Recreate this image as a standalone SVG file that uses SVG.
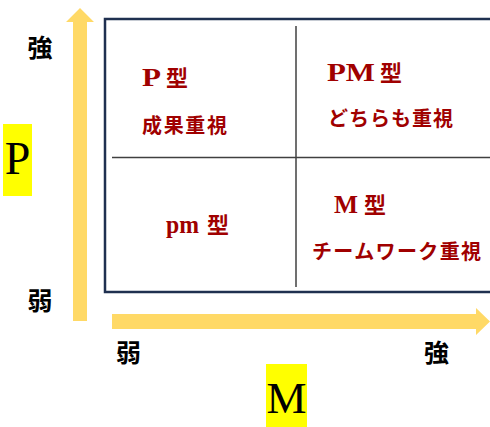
<svg xmlns="http://www.w3.org/2000/svg" width="490" height="427" viewBox="0 0 490 427">
<style>
.ax{font-family:"Noto Sans CJK JP","Noto Sans",sans-serif;font-weight:bold;font-size:25px;fill:#000}
.q{font-family:"Liberation Serif","Noto Sans CJK JP",serif;font-weight:bold;fill:#A00000}
.ql{font-size:25px}
.qk{font-size:22px}
.qs{font-size:20px}
.big{font-family:"Liberation Serif",serif;fill:#000}
.arrow{fill:#FFD966}
.hl{fill:#FFFF00}
.div{stroke:#404040;stroke-width:1.5;fill:none}
</style>
<rect width="490" height="427" fill="#fff"/>
<g id="connectors">
  <polygon class="arrow" points="73,321 73,22 66,22 80,8 94,22 87,22 87,321"/>
  <polygon class="arrow" points="112,314 476,314 476,308 490,321.5 476,335 476,329 112,329"/>
</g>
<g id="grid">
  <rect x="105" y="19" width="390" height="273" fill="none" stroke="#1F3050" stroke-width="2.5"/>
  <line class="div" x1="296" y1="26" x2="296" y2="287"/>
  <line class="div" x1="112" y1="157.5" x2="490" y2="157.5"/>
</g>
<g id="axis-p">
  <rect class="hl" x="3" y="124" width="29" height="72"/>
  <text class="big" x="17.5" y="174" font-size="46" text-anchor="middle">P</text>
  <text class="ax" x="40" y="57" text-anchor="middle">強</text>
  <text class="ax" x="40" y="310" text-anchor="middle">弱</text>
</g>
<g id="axis-m">
  <rect class="hl" x="266" y="364" width="41" height="63"/>
  <text class="big" x="286.5" y="413" font-size="45" text-anchor="middle">M</text>
  <text class="ax" x="128.5" y="362" text-anchor="middle">弱</text>
  <text class="ax" x="436.5" y="362" text-anchor="middle">強</text>
</g>
<g id="q-p">
  <text class="q ql" x="142" y="86" textLength="19" lengthAdjust="spacingAndGlyphs">P</text>
  <text class="q qk" x="166" y="86">型</text>
  <text class="q qs" x="142" y="133" textLength="85" lengthAdjust="spacing">成果重視</text>
</g>
<g id="q-pm">
  <text class="q ql" x="327" y="81" textLength="48" lengthAdjust="spacingAndGlyphs">PM</text>
  <text class="q qk" x="380" y="81">型</text>
  <text class="q qs" x="328" y="126" textLength="125" lengthAdjust="spacing">どちらも重視</text>
</g>
<g id="q-pm-low">
  <text class="q ql" x="166" y="233" textLength="33" lengthAdjust="spacingAndGlyphs">pm</text>
  <text class="q qk" x="207" y="233">型</text>
</g>
<g id="q-m">
  <text class="q ql" x="334" y="213" textLength="24" lengthAdjust="spacingAndGlyphs">M</text>
  <text class="q qk" x="364" y="213">型</text>
  <text class="q qs" x="312" y="259" textLength="169" lengthAdjust="spacing">チームワーク重視</text>
</g>
</svg>
